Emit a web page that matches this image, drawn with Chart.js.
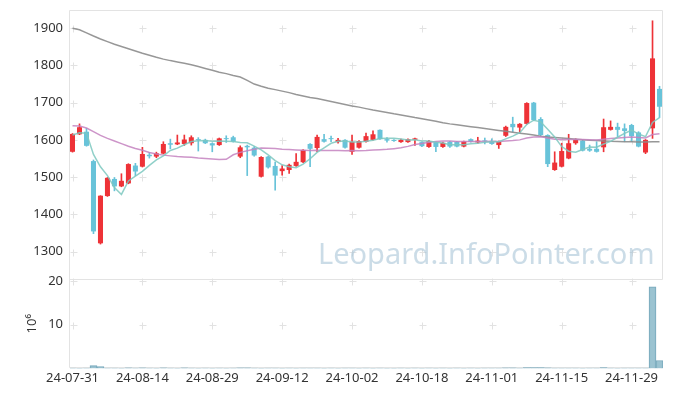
<!DOCTYPE html>
<html><head><meta charset="utf-8">
<script src="https://cdn.jsdelivr.net/npm/chart.js@4.4.1/dist/chart.umd.min.js"></script>
<style>
html,body{margin:0;padding:0;background:#fff;}
#wrap{position:relative;width:673px;height:396px;}
</style></head><body>
<div id="wrap"><canvas id="c" width="673" height="396"></canvas></div>
<script>
const dates = [
'24-07-31','24-08-01','24-08-02','24-08-05','24-08-06','24-08-07','24-08-08','24-08-09','24-08-12','24-08-13',
'24-08-14','24-08-16','24-08-19','24-08-20','24-08-21','24-08-22','24-08-23','24-08-26','24-08-27','24-08-28',
'24-08-29','24-08-30','24-09-02','24-09-03','24-09-04','24-09-05','24-09-06','24-09-09','24-09-10','24-09-11',
'24-09-12','24-09-13','24-09-19','24-09-20','24-09-23','24-09-24','24-09-25','24-09-26','24-09-27','24-09-30',
'24-10-02','24-10-04','24-10-07','24-10-08','24-10-10','24-10-11','24-10-14','24-10-15','24-10-16','24-10-17',
'24-10-18','24-10-21','24-10-22','24-10-23','24-10-24','24-10-25','24-10-28','24-10-29','24-10-30','24-10-31',
'24-11-01','24-11-04','24-11-05','24-11-06','24-11-07','24-11-08','24-11-11','24-11-12','24-11-13','24-11-14',
'24-11-15','24-11-18','24-11-19','24-11-20','24-11-21','24-11-22','24-11-25','24-11-26','24-11-27','24-11-28',
'24-11-29','24-12-02','24-12-03','24-12-04','24-12-05'];

const openP = [1568,1615,1622,1543,1322,1449,1495,1475,1483,1531,
1528,1560,1555,1563,1591,1588,1589,1591,1602,1600,
1591,1586,1604,1607,1555,1584,1579,1501,1555,1530,
1516,1519,1530,1540,1589,1578,1602,1604,1594,1600,
1568,1579,1595,1600,1627,1602,1600,1594,1594,1600,
1594,1581,1594,1581,1595,1595,1582,1602,1593,1598,
1595,1586,1611,1643,1633,1643,1700,1656,1613,1519,
1528,1550,1591,1598,1576,1576,1580,1627,1635,1631,
1640,1620,1566,1631,1737];
const highP = [1617,1643,1631,1546,1450,1499,1499,1509,1536,1537,
1580,1566,1567,1595,1602,1613,1613,1611,1606,1602,
1592,1605,1611,1610,1584,1586,1582,1555,1556,1540,
1531,1535,1563,1574,1590,1613,1615,1610,1604,1601,
1613,1598,1618,1624,1627,1606,1601,1602,1603,1605,
1595,1599,1595,1594,1596,1596,1597,1603,1607,1605,
1603,1597,1637,1661,1644,1700,1701,1660,1614,1568,
1591,1615,1603,1599,1586,1595,1656,1651,1645,1643,
1642,1622,1601,1920,1744];
const lowP = [1567,1614,1583,1348,1320,1448,1463,1474,1482,1504,
1527,1551,1552,1562,1576,1587,1585,1586,1570,1590,
1568,1585,1593,1594,1552,1504,1556,1500,1524,1465,
1505,1510,1529,1539,1528,1568,1594,1595,1591,1578,
1561,1578,1594,1599,1601,1594,1596,1593,1593,1585,
1582,1580,1568,1580,1580,1581,1581,1594,1591,1589,
1588,1577,1609,1622,1620,1642,1652,1610,1528,1518,
1527,1549,1588,1570,1569,1567,1568,1626,1609,1595,
1595,1581,1563,1604,1660];
const closeP = [1616,1634,1584,1354,1450,1498,1475,1490,1535,1515,
1562,1556,1564,1589,1587,1593,1601,1607,1599,1591,
1585,1604,1602,1595,1580,1580,1558,1554,1526,1504,
1523,1533,1541,1573,1576,1608,1595,1602,1600,1579,
1595,1597,1610,1615,1602,1598,1597,1600,1602,1604,
1583,1597,1581,1592,1582,1582,1596,1595,1598,1596,
1589,1596,1635,1634,1643,1699,1653,1613,1535,1539,
1570,1591,1600,1571,1571,1568,1634,1635,1627,1624,
1610,1582,1600,1819,1689];

const ma5 = [1613,1619,1618,1561,1527.6,1504,1472.2,1453.4,1489.6,1502.6,
1515.4,1531.6,1546.4,1557.2,1571.6,1577.8,1586.8,1595.4,1597.4,1598.2,
1596.6,1597.2,1596.2,1595.4,1593.2,1592.2,1583,1573.4,1559.6,1544.4,
1533,1528,1525.4,1534.8,1549.2,1566.2,1578.6,1590.8,1596.2,1596.8,
1594.2,1594.6,1596.2,1599.2,1603.8,1604.4,1604.4,1602.4,1599.8,1600.2,
1597.2,1597.2,1593.4,1591.4,1587,1586.8,1586.6,1589.4,1590.6,1593.4,
1594.8,1594.8,1602.8,1610,1619.4,1641.4,1652.8,1648.4,1628.6,1607.8,
1582,1569.6,1567,1574.2,1580.6,1580.2,1588.8,1595.8,1607,1617.6,
1626,1615.6,1608.6,1647,1660];
const ma20 = [1638,1637,1632,1622,1612,1604,1597,1590,1583,1577,
1572,1566,1562,1559,1557,1555,1554,1553,1551,1550,
1548.5,1547,1547.9,1559.9,1566.4,1570.5,1574.7,1577.9,1577.4,1576.9,
1574.9,1573.8,1572.6,1571.8,1571.3,1572,1571.7,1571.5,1571.5,1570.9,
1571.4,1571.1,1571.5,1572.5,1573.6,1574.5,1576.4,1578.7,1582.5,1587.5,
1590.5,1593.7,1595.7,1596.7,1597,1595.7,1595.7,1595.4,1595.3,1596.1,
1595.8,1595.8,1597,1598,1600,1605.1,1607.9,1608.5,1605.2,1601.9,
1601.3,1601,1601.9,1600.9,1600.3,1599.6,1601.5,1603.5,1605,1606.4,
1607.4,1606.7,1605,1614.2,1616.5];
const ma120 = [1900,1896,1887.5,1879,1871,1864,1857,1851,1845,1839,
1833,1827.5,1822,1817,1813,1809.5,1806,1802,1797,1792,
1787,1781.5,1778,1773,1769,1760,1750,1744,1739,1735,
1731,1727,1722,1718,1714,1711,1707,1703,1699,1695,
1691,1688,1684,1680,1677,1673.5,1670,1667,1663.5,1660,
1657,1653.5,1650,1646,1643,1640.5,1638,1635.5,1633,1630.5,
1628,1625.5,1623,1620.5,1618,1615.5,1613,1610,1608,1606.5,
1605,1603.5,1602,1600.5,1599,1598,1597,1596,1595.5,1595,
1595,1594.5,1594.5,1595,1595];
// volume in 10^6 shares
const volume = [0.05,0.04,0.06,0.62,0.40,0.06,0.05,0.04,0.15,0.05,
0.15,0.05,0.04,0.15,0.05,0.04,0.15,0.05,0.04,0.05,
0.04,0.05,0.04,0.05,0.15,0.15,0.05,0.04,0.05,0.06,
0.04,0.05,0.04,0.05,0.06,0.05,0.04,0.05,0.04,0.05,
0.05,0.04,0.05,0.04,0.05,0.04,0.04,0.05,0.04,0.05,
0.04,0.05,0.04,0.05,0.04,0.05,0.04,0.05,0.04,0.05,
0.05,0.06,0.15,0.15,0.06,0.2,0.2,0.2,0.15,0.06,
0.05,0.06,0.05,0.04,0.05,0.05,0.2,0.05,0.04,0.05,
0.06,0.05,0.06,18.7,1.8];

const xTickIndex = [0,10,20,30,40,50,60,70,80];
const priceTicks = [1300,1400,1500,1600,1700,1800,1900];
const volTicks = [10,20];

const UP = '#ee3237', DOWN = '#68c3d9';
const FONT = "'Noto Sans', 'DejaVu Sans', sans-serif";
const candleColor = closeP.map((c,i)=> c >= openP[i] ? UP : DOWN);

const decor = {
  id: 'decor',
  beforeDatasetsDraw(chart) {
    const ctx = chart.ctx, a = chart.chartArea;
    const xs = chart.scales.x, yp = chart.scales.y, yv = chart.scales.vol;
    ctx.save();
    // frame
    ctx.strokeStyle = '#e3e3e3'; ctx.lineWidth = 1;
    const pb = Math.round(yp.bottom) + 0.5;
    const L = Math.round(a.left) - 0.5, R = Math.round(a.right) - 0.5;
    const T = Math.round(a.top) + 0.5, B = Math.round(a.bottom) - 0.5;
    ctx.beginPath();
    ctx.moveTo(L, T); ctx.lineTo(R, T); ctx.lineTo(R, pb);
    ctx.moveTo(L, pb); ctx.lineTo(R, pb);
    ctx.moveTo(L, T); ctx.lineTo(L, B); ctx.lineTo(R, B);
    ctx.stroke();
    // grid crosses
    ctx.strokeStyle = '#e2e2e2';
    ctx.beginPath();
    for (const t of xs.ticks) {
      const px = Math.round(xs.getPixelForValue(t.value)) + 0.5;
      for (const s of [yp, yv]) {
        for (const tt of s.ticks) {
          const py = Math.round(s.getPixelForValue(tt.value)) + 0.5;
          ctx.moveTo(px - 3, py); ctx.lineTo(px + 4, py);
          ctx.moveTo(px, py - 3); ctx.lineTo(px, py + 4);
        }
      }
    }
    ctx.stroke();
    // watermark
    ctx.font = "29px " + FONT;
    ctx.fillStyle = 'rgba(160,192,212,0.55)';
    ctx.textAlign = 'right'; ctx.textBaseline = 'alphabetic';
    ctx.fillText('Leopard.InfoPointer.com', R - 8, yp.bottom - 15);
    ctx.restore();
  }
};

const noPad = s => { s.paddingTop = 0; s.paddingBottom = 0; };
const idx = dates.map((d,i)=>i);
const ctx = document.getElementById('c').getContext('2d');
new Chart(ctx, {
  type: 'bar',
  data: {
    datasets: [
      { type:'line', label:'MA5', data: idx.map(i=>({x:i, y:ma5[i]})), yAxisID:'y',
        borderColor:'rgba(125,200,192,0.85)', borderWidth:1.5, pointRadius:0, tension:0, order:0 },
      { type:'line', label:'MA20', data: idx.map(i=>({x:i, y:ma20[i]})), yAxisID:'y',
        borderColor:'rgba(196,130,192,0.85)', borderWidth:1.5, pointRadius:0, tension:0, order:0 },
      { type:'line', label:'MA120', data: idx.map(i=>({x:i, y:ma120[i]})), yAxisID:'y',
        borderColor:'rgba(140,140,140,0.9)', borderWidth:1.5, pointRadius:0, tension:0, order:0 },
      { label:'wick', data: idx.map(i=>({x:i, y:[lowP[i], highP[i]]})), yAxisID:'y',
        backgroundColor: candleColor, barThickness:1, grouped:false, order:2 },
      { label:'body', data: idx.map(i=>({x:i, y:[openP[i], closeP[i]]})), yAxisID:'y',
        backgroundColor: candleColor, barPercentage:0.72, categoryPercentage:1, minBarLength:1, grouped:false, order:1 },
      { label:'volume', data: idx.map(i=>({x:i, y:volume[i]})), yAxisID:'vol',
        backgroundColor:'rgba(150,192,207,0.95)', borderColor:'#78a9bc', borderWidth:1,
        barPercentage:1, categoryPercentage:1, grouped:false, order:1 }
    ]
  },
  options: {
    responsive:false, animation:false, devicePixelRatio:1,
    layout:{ padding:{ top:10, right:10, left:0, bottom:8 } },
    plugins:{ legend:{display:false}, tooltip:{enabled:false} },
    scales:{
      x:{ type:'linear', min:-0.36, max:84.5, offset:false,
        grid:{display:false, drawTicks:false}, border:{display:false},
        afterBuildTicks: s => { s.ticks = xTickIndex.map(v=>({value:v})); },
        ticks:{ autoSkip:false, maxRotation:0, padding:2, color:'#333', font:{family:FONT, size:13},
          callback: v => dates[v] }
      },
      y:{ type:'linear', position:'left', stack:'v', stackWeight:268, weight:1, min:1226, max:1949,
        grid:{display:false, drawTicks:false}, border:{display:false},
        afterBuildTicks: s => { s.ticks = priceTicks.map(v=>({value:v})); },
        afterFit: s => { s.width = 70; noPad(s); },
        ticks:{ padding:7, color:'#333', font:{family:FONT, size:13}, callback: v => String(v) }
      },
      vol:{ type:'linear', position:'left', stack:'v', stackWeight:89, weight:0, min:0, max:20.46,
        grid:{display:false, drawTicks:false}, border:{display:false},
        afterBuildTicks: s => { s.ticks = volTicks.map(v=>({value:v})); },
        afterFit: s => { s.width = 70; noPad(s); },
        title:{ display:true, text:'10⁶', color:'#333', font:{family:FONT, size:13}, padding:{top:24, bottom:0} },
        ticks:{ padding:7, color:'#333', font:{family:FONT, size:13}, callback: v => String(v) }
      }
    }
  },
  plugins:[decor]
});
</script>
</body></html>
